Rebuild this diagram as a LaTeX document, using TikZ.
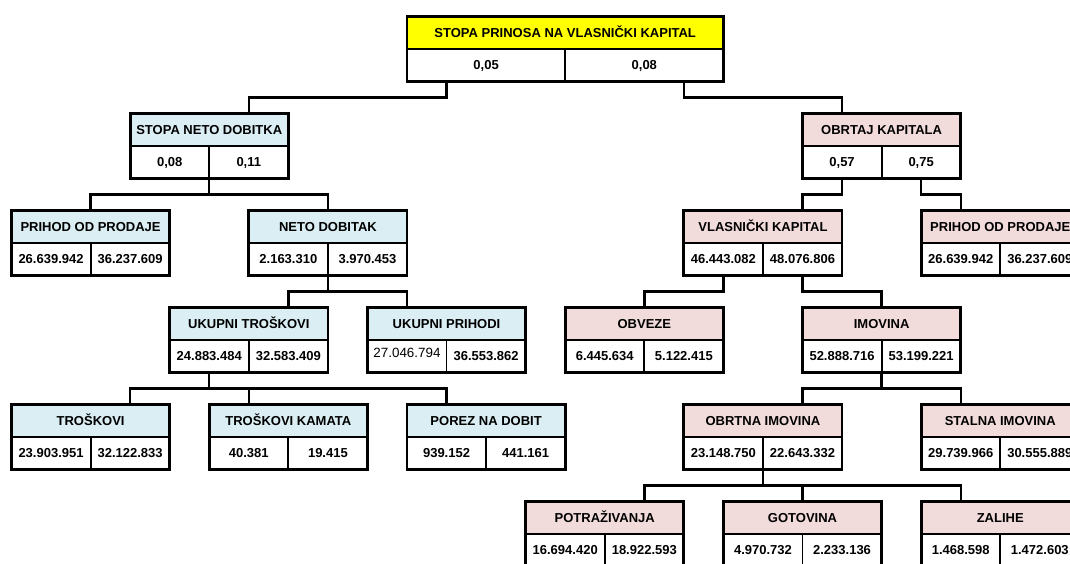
\documentclass[tikz,border=0pt]{standalone}
\usepackage{fontspec}
\setmainfont{Liberation Sans}
\usetikzlibrary{positioning,calc}

\definecolor{ttlyellow}{RGB}{255,255,0}
\definecolor{ttlblue}{RGB}{218,238,243}
\definecolor{ttlpink}{RGB}{242,220,219}

\tikzset{
  ttl/.style={draw, line width=0.9pt, anchor=north west, outer sep=0pt, inner sep=0pt,
              minimum width=79.1pt, minimum height=16.25pt,
              text height=4.7pt, text depth=0pt, font=\fontsize{6.5}{7}\selectfont\bfseries},
  wide/.style={minimum width=158.2pt},
  val/.style={draw, line width=0.9pt, fill=white, outer sep=0pt, inner sep=0pt,
              minimum width=39.55pt, minimum height=16.25pt,
              text height=4.7pt, text depth=0pt, font=\fontsize{6.5}{7}\selectfont\bfseries},
  wideval/.style={minimum width=79.1pt},
  frame/.style={line width=1.4pt},
  conn/.style={line width=1.2pt}
}

\begin{document}
\begin{tikzpicture}[x=0.5pt,y=-0.5pt]
\clip (0,0) rectangle (1070,563);

% level 0
\node[ttl, wide, fill=ttlyellow] (spv) at (407,16.5) {STOPA PRINOSA NA VLASNIČKI KAPITAL};
\node[val, wideval] (spv1) [below right=0pt and 0pt of spv.south west] {0,05};
\node[val, wideval] (spv2) [right=0pt of spv1] {0,08};

% level 1
\node[ttl, fill=ttlblue] (snd) at (130.15,113.5) {STOPA NETO DOBITKA};
\node[val] (snd1) [below right=0pt and 0pt of snd.south west] {0,08};
\node[val] (snd2) [right=0pt of snd1] {0,11};

\node[ttl, fill=ttlpink] (obk) at (802.5,113.5) {OBRTAJ KAPITALA};
\node[val] (obk1) [below right=0pt and 0pt of obk.south west] {0,57};
\node[val] (obk2) [right=0pt of obk1] {0,75};

% level 2
\node[ttl, fill=ttlblue] (ppl) at (11.5,210.5) {PRIHOD OD PRODAJE};
\node[val] (ppl1) [below right=0pt and 0pt of ppl.south west] {26.639.942};
\node[val] (ppl2) [right=0pt of ppl1] {36.237.609};

\node[ttl, fill=ttlblue] (ndb) at (248.8,210.5) {NETO DOBITAK};
\node[val] (ndb1) [below right=0pt and 0pt of ndb.south west] {2.163.310};
\node[val] (ndb2) [right=0pt of ndb1] {3.970.453};

\node[ttl, fill=ttlpink] (vlk) at (683.85,210.5) {VLASNIČKI KAPITAL};
\node[val] (vlk1) [below right=0pt and 0pt of vlk.south west] {46.443.082};
\node[val] (vlk2) [right=0pt of vlk1] {48.076.806};

\node[ttl, fill=ttlpink] (ppr) at (921.15,210.5) {PRIHOD OD PRODAJE};
\node[val] (ppr1) [below right=0pt and 0pt of ppr.south west] {26.639.942};
\node[val] (ppr2) [right=0pt of ppr1] {36.237.609};

% level 3
\node[ttl, fill=ttlblue] (ukt) at (169.7,307.5) {UKUPNI TROŠKOVI};
\node[val] (ukt1) [below right=0pt and 0pt of ukt.south west] {24.883.484};
\node[val] (ukt2) [right=0pt of ukt1] {32.583.409};

\node[ttl, fill=ttlblue] (ukp) at (367.45,307.5) {UKUPNI PRIHODI};
\node[val, font=\fontsize{6.7}{7}\selectfont] (ukp1) [below right=0pt and 0pt of ukp.south west] {\raisebox{1.5pt}{27.046.794}};
\node[val] (ukp2) [right=0pt of ukp1] {36.553.862};

\node[ttl, fill=ttlpink] (obv) at (565.2,307.5) {OBVEZE};
\node[val] (obv1) [below right=0pt and 0pt of obv.south west] {6.445.634};
\node[val] (obv2) [right=0pt of obv1] {5.122.415};

\node[ttl, fill=ttlpink] (imo) at (802.5,307.5) {IMOVINA};
\node[val] (imo1) [below right=0pt and 0pt of imo.south west] {52.888.716};
\node[val] (imo2) [right=0pt of imo1] {53.199.221};

% level 4
\node[ttl, fill=ttlblue] (tro) at (11.5,404.5) {TROŠKOVI};
\node[val] (tro1) [below right=0pt and 0pt of tro.south west] {23.903.951};
\node[val] (tro2) [right=0pt of tro1] {32.122.833};

\node[ttl, fill=ttlblue] (trk) at (209.25,404.5) {TROŠKOVI KAMATA};
\node[val] (trk1) [below right=0pt and 0pt of trk.south west] {40.381};
\node[val] (trk2) [right=0pt of trk1] {19.415};

\node[ttl, fill=ttlblue] (pnd) at (407,404.5) {POREZ NA DOBIT};
\node[val] (pnd1) [below right=0pt and 0pt of pnd.south west] {939.152};
\node[val] (pnd2) [right=0pt of pnd1] {441.161};

\node[ttl, fill=ttlpink] (obi) at (683.85,404.5) {OBRTNA IMOVINA};
\node[val] (obi1) [below right=0pt and 0pt of obi.south west] {23.148.750};
\node[val] (obi2) [right=0pt of obi1] {22.643.332};

\node[ttl, fill=ttlpink] (sti) at (921.15,404.5) {STALNA IMOVINA};
\node[val] (sti1) [below right=0pt and 0pt of sti.south west] {29.739.966};
\node[val] (sti2) [right=0pt of sti1] {30.555.889};

% level 5
\node[ttl, fill=ttlpink] (pot) at (525.65,501.5) {POTRAŽIVANJA};
\node[val] (pot1) [below right=0pt and 0pt of pot.south west] {16.694.420};
\node[val] (pot2) [right=0pt of pot1] {18.922.593};

\node[ttl, fill=ttlpink] (got) at (723.4,501.5) {GOTOVINA};
\node[val] (got1) [below right=0pt and 0pt of got.south west] {4.970.732};
\node[val] (got2) [right=0pt of got1] {2.233.136};

\node[ttl, fill=ttlpink] (zal) at (921.15,501.5) {ZALIHE};
\node[val] (zal1) [below right=0pt and 0pt of zal.south west] {1.468.598};
\node[val] (zal2) [right=0pt of zal1] {1.472.603};

% outer frames
\draw[frame] (spv.north west) rectangle (spv2.south east);
\draw[frame] (snd.north west) rectangle (snd2.south east);
\draw[frame] (obk.north west) rectangle (obk2.south east);
\draw[frame] (ppl.north west) rectangle (ppl2.south east);
\draw[frame] (ndb.north west) rectangle (ndb2.south east);
\draw[frame] (vlk.north west) rectangle (vlk2.south east);
\draw[frame] (ppr.north west) rectangle (ppr2.south east);
\draw[frame] (ukt.north west) rectangle (ukt2.south east);
\draw[frame] (ukp.north west) rectangle (ukp2.south east);
\draw[frame] (obv.north west) rectangle (obv2.south east);
\draw[frame] (imo.north west) rectangle (imo2.south east);
\draw[frame] (tro.north west) rectangle (tro2.south east);
\draw[frame] (trk.north west) rectangle (trk2.south east);
\draw[frame] (pnd.north west) rectangle (pnd2.south east);
\draw[frame] (obi.north west) rectangle (obi2.south east);
\draw[frame] (sti.north west) rectangle (sti2.south east);
\draw[frame] (pot.north west) rectangle (pot2.south east);
\draw[frame] (got.north west) rectangle (got2.south east);
\draw[frame] (zal.north west) rectangle (zal2.south east);

% connectors
\coordinate (spvl) at ($(spv1.south west)!.25!(spv1.south east)$);
\coordinate (spvr) at ($(spv2.south west)!.75!(spv2.south east)$);
\draw[conn] (spvl) -- ++(0,16) -| (snd2 |- snd.north);
\draw[conn] (spvr) -- ++(0,16) -| (obk1 |- obk.north);
\draw[conn] (snd1.south east) -- ++(0,16) -| (ppl.north);
\draw[conn] (snd1.south east) -- ++(0,16) -| (ndb.north);
\draw[conn] (ndb1.south east) -- ++(0,16) -| (ukt2 |- ukt.north);
\draw[conn] (ndb1.south east) -- ++(0,16) -| (ukp1 |- ukp.north);
\draw[conn] (ukt1.south) -- ++(0,16) -| (tro2 |- tro.north);
\draw[conn] (ukt1.south) -- ++(0,16) -| (trk1 |- trk.north);
\draw[conn] (ukt1.south) -- ++(0,16) -| (pnd1 |- pnd.north);
\draw[conn] (obk1.south) -- ++(0,16) -| (vlk2 |- vlk.north);
\draw[conn] (obk2.south) -- ++(0,16) -| (ppr1 |- ppr.north);
\draw[conn] (vlk1.south) -- ++(0,16) -| (obv.north);
\draw[conn] (vlk2.south) -- ++(0,16) -| (imo.north);
\draw[conn] (imo1.south east) -- ++(0,16) -| (obi2 |- obi.north);
\draw[conn] (imo1.south east) -- ++(0,16) -| (sti1 |- sti.north);
\draw[conn] (obi1.south east) -- ++(0,16) -| (pot2 |- pot.north);
\draw[conn] (obi1.south east) -- ++(0,16) -| (got.north);
\draw[conn] (obi1.south east) -- ++(0,16) -| (zal1 |- zal.north);
\end{tikzpicture}
\end{document}
